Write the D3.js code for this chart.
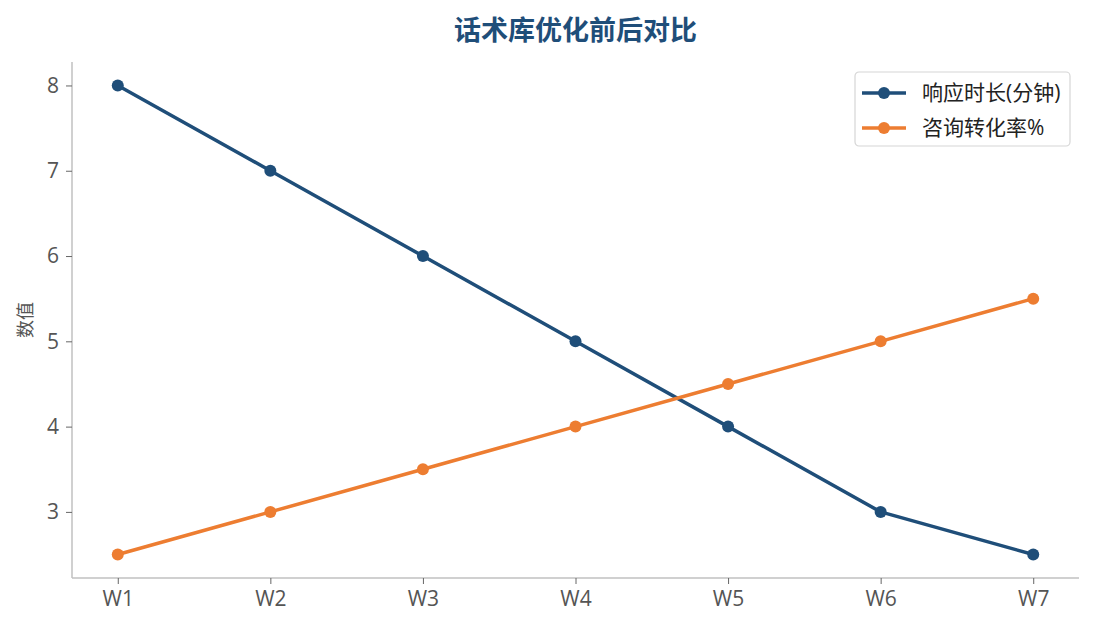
<!DOCTYPE html>
<html>
<head>
<meta charset="utf-8">
<script src="https://cdn.jsdelivr.net/npm/d3@7"></script>
<style>
  body { margin: 0; background: #fff; }
  text { font-family: "Open Sans", "Noto Sans CJK SC", sans-serif; }
</style>
</head>
<body>
<div id="chart"></div>
<script>
var weeks = ['W1', 'W2', 'W3', 'W4', 'W5', 'W6', 'W7'];
var responseTime = [8, 7, 6, 5, 4, 3, 2.5];
var conversionRate = [2.5, 3, 3.5, 4, 4.5, 5, 5.5];
var yTicks = [3, 4, 5, 6, 7, 8];
var seriesNames = ['响应时长(分钟)', '咨询转化率%'];
var seriesColors = ['#1f4e79', '#ed7d31'];

var width = 1095, height = 630;
var margin = {top: 62, right: 16, bottom: 52, left: 72};
var innerW = width - margin.left - margin.right;
var innerH = height - margin.top - margin.bottom;

var svg = d3.select('#chart').append('svg')
  .attr('width', width)
  .attr('height', height);

var g = svg.append('g').attr('transform', 'translate(' + margin.left + ',' + margin.top + ')');

// 5% padding on both axes
var x = d3.scaleLinear().domain([-0.3, weeks.length - 1 + 0.3]).range([0, innerW]);
var yMin = 2.5, yMax = 8, pad = (yMax - yMin) * 0.05;
var y = d3.scaleLinear().domain([yMin - pad, yMax + pad]).range([innerH, 0]);

var xAxis = d3.axisBottom(x).tickValues(d3.range(weeks.length)).tickFormat(function(d) { return weeks[d]; })
  .tickSize(6).tickPadding(7);
var yAxis = d3.axisLeft(y).tickValues(yTicks).tickFormat(d3.format('d')).tickSize(6).tickPadding(7);

var gx = g.append('g').attr('transform', 'translate(0,' + innerH + ')').call(xAxis);
var gy = g.append('g').call(yAxis);

[gx, gy].forEach(function(ax) {
  ax.select('.domain').attr('stroke', '#c0c0c0').attr('stroke-width', 1.5);
  ax.selectAll('.tick line').attr('stroke', '#666').attr('stroke-width', 1);
  ax.selectAll('.tick text').attr('fill', '#555').style('font-size', '21px');
});
gy.select('.domain').attr('d', 'M0,0V' + innerH);
gx.select('.domain').attr('d', 'M0,0H' + innerW);

var series = [responseTime, conversionRate];
var line = d3.line().x(function(d, i) { return x(i); }).y(function(d) { return y(d); });

series.forEach(function(s, k) {
  g.append('path')
    .datum(s)
    .attr('fill', 'none')
    .attr('stroke', seriesColors[k])
    .attr('stroke-width', 3.5)
    .attr('stroke-linejoin', 'round')
    .attr('d', line);
  g.selectAll('.pt' + k).data(s).enter().append('circle')
    .attr('class', 'pt' + k)
    .attr('cx', function(d, i) { return x(i); })
    .attr('cy', function(d) { return y(d); })
    .attr('r', 6)
    .attr('fill', seriesColors[k]);
});

// title
svg.append('text')
  .attr('x', margin.left + innerW / 2)
  .attr('y', 40)
  .attr('text-anchor', 'middle')
  .attr('fill', '#1f4e79')
  .style('font-size', '27px')
  .style('font-weight', 'bold')
  .text('话术库优化前后对比');

// y label
svg.append('text')
  .attr('transform', 'translate(32,' + (margin.top + innerH / 2) + ') rotate(-90)')
  .attr('text-anchor', 'middle')
  .attr('fill', '#555')
  .style('font-size', '18px')
  .text('数值');

// legend
var legend = svg.append('g').attr('transform', 'translate(855,72)');
legend.append('rect')
  .attr('width', 215).attr('height', 74)
  .attr('rx', 4)
  .attr('fill', '#fff')
  .attr('stroke', '#d6d6d6')
  .attr('stroke-width', 1.2);
seriesNames.forEach(function(name, k) {
  var ly = 21 + k * 35;
  legend.append('line')
    .attr('x1', 7).attr('x2', 51).attr('y1', ly).attr('y2', ly)
    .attr('stroke', seriesColors[k]).attr('stroke-width', 3.5);
  legend.append('circle').attr('cx', 29).attr('cy', ly).attr('r', 6).attr('fill', seriesColors[k]);
  legend.append('text')
    .attr('x', 67).attr('y', ly + 7)
    .attr('fill', '#222')
    .style('font-size', '21px')
    .text(name);
});
</script>
</body>
</html>
